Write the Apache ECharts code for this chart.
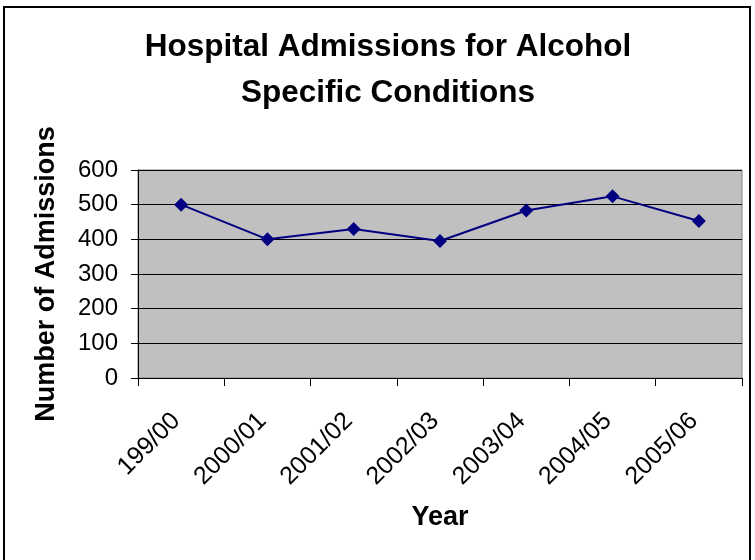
<!DOCTYPE html>
<html>
<head>
<meta charset="utf-8">
<script src="https://cdn.jsdelivr.net/npm/echarts@6/dist/echarts.min.js"></script>
<style>
  html, body { margin: 0; padding: 0; background: #fff; }
  #chart { width: 755px; height: 560px; }
</style>
</head>
<body>
<div id="chart"></div>
<script>
// Financial years and yearly admission counts
const years = ['199/00', '2000/01', '2001/02', '2002/03', '2003/04', '2004/05', '2005/06'];
const admissions = [500, 400, 430, 395, 483, 524, 453];

const font = 'Liberation Sans, Arial, sans-serif';
const chart = echarts.init(document.getElementById('chart'), null, { renderer: 'canvas' });

chart.setOption({
  backgroundColor: '#ffffff',
  animation: false,
  title: {
    text: 'Hospital Admissions for Alcohol\nSpecific Conditions',
    left: 383,
    top: 19,
    textAlign: 'center',
    textStyle: {
      fontFamily: font,
      fontSize: 31.5,
      fontWeight: 'bold',
      color: '#000',
      lineHeight: 46
    }
  },
  graphic: [{
    type: 'rect',
    shape: { x: 4, y: 7, width: 746, height: 560 },
    style: { fill: 'none', stroke: '#000', lineWidth: 2 },
    silent: true
  }],
  grid: {
    left: 138,
    top: 170,
    width: 604,
    height: 208,
    show: true,
    backgroundColor: '#C0C0C0',
    borderColor: '#808080',
    borderWidth: 1
  },
  xAxis: {
    type: 'category',
    data: years,
    boundaryGap: true,
    name: 'Year',
    nameLocation: 'middle',
    nameGap: 126,
    nameTextStyle: { fontFamily: font, fontSize: 27, fontWeight: 'bold', color: '#000' },
    axisLine: { show: true, lineStyle: { color: '#000', width: 1 } },
    axisTick: { show: true, alignWithLabel: false, length: 8, lineStyle: { color: '#000' } },
    axisLabel: {
      rotate: 45,
      margin: 34,
      padding: [0, 7, 0, 0],
      fontFamily: font,
      fontSize: 25,
      color: '#000',
      interval: 0
    },
    splitLine: { show: false }
  },
  yAxis: {
    type: 'value',
    min: 0,
    max: 600,
    interval: 100,
    name: 'Number of Admissions',
    nameLocation: 'middle',
    nameGap: 78,
    nameTextStyle: { fontFamily: font, fontSize: 27, fontWeight: 'bold', color: '#000' },
    axisLine: { show: true, lineStyle: { color: '#000', width: 1 } },
    axisTick: { show: true, length: 7, lineStyle: { color: '#000' } },
    axisLabel: { margin: 20, fontFamily: font, fontSize: 24, color: '#000' },
    splitLine: { show: true, lineStyle: { color: '#000', width: 1 } }
  },
  series: [{
    type: 'line',
    data: admissions,
    symbol: 'diamond',
    symbolSize: 14,
    lineStyle: { color: '#000080', width: 2 },
    itemStyle: { color: '#000080' }
  }]
});
</script>
</body>
</html>
